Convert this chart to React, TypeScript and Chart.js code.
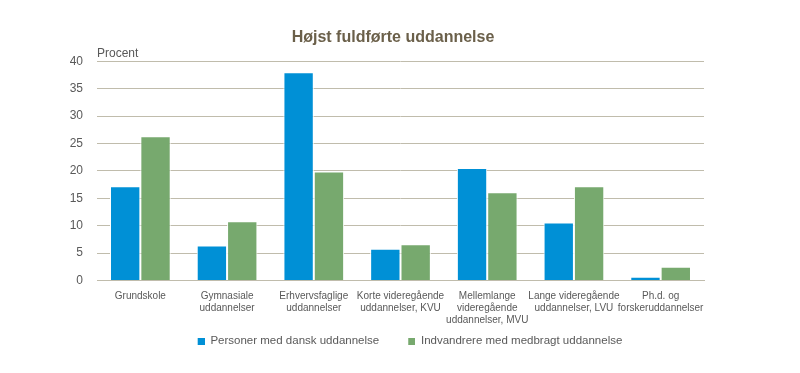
import React, { useEffect, useRef } from "react";
import { Chart, registerables } from "chart.js";

Chart.register(...registerables);

const categories: (string | string[])[] = [
  "Grundskole",
  ["Gymnasiale", "uddannelser"],
  ["Erhvervsfaglige", "uddannelser"],
  ["Korte videregående", "uddannelser, KVU"],
  ["Mellemlange", "videregående", "uddannelser, MVU"],
  ["Lange videregående", "uddannelser, LVU"],
  ["Ph.d. og", "forskeruddannelser"],
];

const danskValues = [17.2, 6.4, 38.0, 5.8, 20.5, 10.6, 0.7];
const indvandrereValues = [26.3, 10.8, 19.9, 6.6, 16.1, 17.2, 2.5];

const seriesNames = ["Personer med dansk uddannelse", "Indvandrere med medbragt uddannelse"];
const seriesColors = ["#0090d6", "#77a96e"];
const chartTitle = "Højst fuldførte uddannelse";
const yUnitLabel = "Procent";

const FONT = "'Liberation Sans', Arial, sans-serif";

function legendMarker(color: string): HTMLCanvasElement {
  // transparent lead-in so the legend items get a wider gap, square at the right
  const c = document.createElement("canvas");
  c.width = 26;
  c.height = 7;
  const g = c.getContext("2d")!;
  g.fillStyle = color;
  g.fillRect(19, 0, 7, 7);
  return c;
}

export default function App() {
  const ref = useRef<HTMLCanvasElement | null>(null);

  useEffect(() => {
    document.body.style.margin = "0";
    if (!ref.current) return;

    const markers = seriesColors.map(legendMarker);

    const unitPlugin = {
      id: "unitLabel",
      afterDraw(chart: any) {
        const { ctx, chartArea } = chart;
        ctx.save();
        ctx.font = `12px ${FONT}`;
        ctx.fillStyle = "#595959";
        ctx.textAlign = "left";
        ctx.textBaseline = "middle";
        ctx.fillText(yUnitLabel, chartArea.left, chartArea.top - 8);
        ctx.restore();
      },
    };

    const chart = new Chart(ref.current, {
      type: "bar",
      data: {
        labels: categories,
        datasets: [
          {
            label: seriesNames[0],
            data: danskValues,
            backgroundColor: seriesColors[0],
            borderColor: "#ffffff",
            borderWidth: 1,
            categoryPercentage: 0.7,
            barPercentage: 1,
            pointStyle: markers[0],
          },
          {
            label: seriesNames[1],
            data: indvandrereValues,
            backgroundColor: seriesColors[1],
            borderColor: "#ffffff",
            borderWidth: 1,
            categoryPercentage: 0.7,
            barPercentage: 1,
            pointStyle: markers[1],
          },
        ],
      },
      options: {
        animation: false,
        responsive: false,
        maintainAspectRatio: false,
        layout: { padding: { left: 0, right: 14, top: 0, bottom: 16 } },
        plugins: {
          title: {
            display: true,
            text: chartTitle,
            color: "#6b604a",
            font: { family: FONT, size: 16, weight: "bold" },
            padding: { top: 28, bottom: 14 },
          },
          legend: {
            position: "bottom",
            fullSize: false,
            labels: {
              usePointStyle: true,
              pointStyleWidth: 26,
              boxHeight: 7,
              padding: 10,
              color: "#595959",
              font: { family: FONT, size: 11.5 },
            },
          },
          tooltip: { enabled: false },
        },
        scales: {
          x: {
            grid: { display: false, drawTicks: false },
            border: { display: true, color: "#c0bcac", width: 1 },
            ticks: {
              color: "#595959",
              font: { family: FONT, size: 10 },
              padding: 10,
              maxRotation: 0,
              autoSkip: false,
            },
            afterFit(scale: any) {
              scale.height = 45;
            },
          },
          y: {
            min: 0,
            max: 40,
            ticks: {
              stepSize: 5,
              color: "#595959",
              font: { family: FONT, size: 12 },
              padding: 14,
            },
            grid: { color: "#c0bcac", lineWidth: 1, drawTicks: false },
            border: { display: false },
            afterFit(scale: any) {
              scale.width = 97;
            },
          },
          yR: {
            position: "right",
            display: true,
            ticks: { display: false },
            grid: { display: false, drawTicks: false },
            border: { display: false },
            afterFit(scale: any) {
              scale.width = 82;
            },
          },
        },
      },
      plugins: [unitPlugin],
    } as any);

    return () => chart.destroy();
  }, []);

  return (
    <div style={{ width: 800, height: 373 }}>
      <canvas ref={ref} width={800} height={373} />
    </div>
  );
}
